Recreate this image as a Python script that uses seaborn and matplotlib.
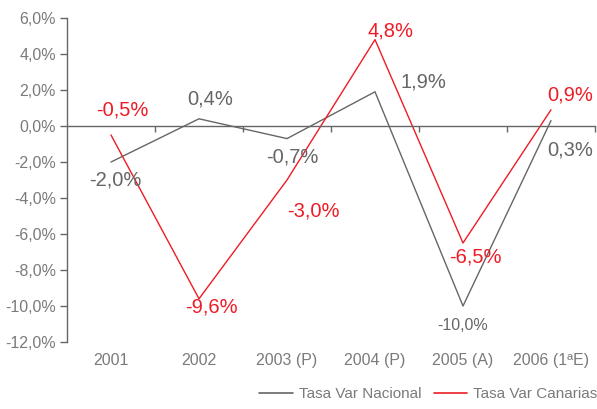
import matplotlib
matplotlib.use("Agg")
import matplotlib.pyplot as plt
import matplotlib.transforms as mtransforms
import seaborn as sns
import pandas as pd
import numpy as np

categories = ["2001", "2002", "2003 (P)", "2004 (P)", "2005 (A)", "2006 (1ªE)"]
nacional = [-2.0, 0.4, -0.7, 1.9, -10.0, 0.3]
canarias = [-0.5, -9.6, -3.0, 4.8, -6.5, 0.9]
yticks = [6, 4, 2, 0, -2, -4, -6, -8, -10, -12]
series_names = ["Tasa Var Nacional", "Tasa Var Canarias"]

GRAY = "#666666"
RED = "#ee1c25"
TXT = "#7a7a7a"

sns.set_style("white")
plt.rcParams['font.family'] = ['Liberation Sans', 'DejaVu Sans']

df = pd.DataFrame({
    "pos": list(range(len(categories))) * 2,
    "value": nacional + canarias,
    "serie": [series_names[0]] * len(categories) + [series_names[1]] * len(categories),
})

fig = plt.figure(figsize=(5.97, 4.09), dpi=100)
ax = fig.add_axes([67/597, 1-342/409, (595-67)/597, (342-18)/409])

sns.lineplot(data=df, x="pos", y="value", hue="serie",
             palette={series_names[0]: GRAY, series_names[1]: RED},
             linewidth=1.0, ax=ax, legend=False, sort=False)

ax.set_xlim(-0.5, len(categories) - 0.5)
ax.set_ylim(-12, 6)
ax.set_xlabel("")
ax.set_ylabel("")

# y axis
ax.set_yticks(yticks)
ax.set_yticklabels([f"{v:.1f}%".replace(".", ",") for v in yticks])
ax.tick_params(axis="y", length=5, width=1, color=GRAY, labelcolor=TXT,
               labelsize=11.5, pad=3, direction="out", left=True)
for s in ["top", "right"]:
    ax.spines[s].set_visible(False)
ax.spines["left"].set_color(GRAY)
ax.spines["left"].set_linewidth(1)
ax.spines["bottom"].set_position(("data", 0))
ax.spines["bottom"].set_color(GRAY)
ax.spines["bottom"].set_linewidth(1)

# x ticks at category boundaries on zero line
bounds = [i + 0.5 for i in range(len(categories))]
ax.set_xticks(bounds)
ax.set_xticklabels([""] * len(bounds))
ax.tick_params(axis="x", length=4, width=1, color=GRAY, direction="out", bottom=True)

trans = mtransforms.blended_transform_factory(ax.transData, ax.transAxes)
for i, c in enumerate(categories):
    ax.text(i, -0.058, c, transform=trans, ha="center", va="center",
            fontsize=11.5, color=TXT)

# data labels (offsets in points)
def lab(x, y, dx, dy, color, text, size=14.5):
    ax.annotate(text, (x, y), xytext=(dx, dy), textcoords="offset points",
                ha="center", va="center", color=color, fontsize=size)

fmt = lambda v: f"{v:.1f}%".replace(".", ",")
nac_off = [(3, -13), (8, 14), (4, -13), (35, 7), (0, -14), (14, -21)]
can_off = [(8, 18), (9, -6), (19, -22), (11, 6), (9, -10), (14, 11)]
for i, v in enumerate(nacional):
    dx, dy = nac_off[i]
    lab(i, v, dx, dy, GRAY, fmt(v), size=14.5 if i != 4 else 11.5)
for i, v in enumerate(canarias):
    dx, dy = can_off[i]
    lab(i, v, dx, dy, RED, fmt(v))

# legend
from matplotlib.lines import Line2D
handles = [Line2D([], [], color=GRAY, lw=1.2), Line2D([], [], color=RED, lw=1.2)]
fig.legend(handles, series_names, loc="lower right", bbox_to_anchor=(1.024, -0.015),
           ncol=2, frameon=False, fontsize=11, handlelength=2.2,
           handletextpad=0.4, columnspacing=0.8, labelcolor=TXT)

fig.savefig("out.png", dpi=100)
